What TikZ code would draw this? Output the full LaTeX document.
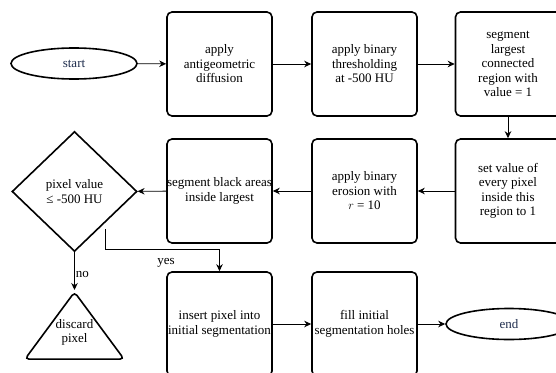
\documentclass[tikz,border=0pt]{standalone}
\usepackage{fontspec}
\setmainfont{Liberation Serif}
\usetikzlibrary{arrows.meta,shapes.geometric}
\definecolor{termtext}{HTML}{1F2D4D}
\tikzset{
  every node/.style={font=\fontsize{13pt}{14.5pt}\selectfont, align=center},
  stepbox/.style={draw, line width=1.6pt, rounded corners=5pt, minimum width=105pt, minimum height=104pt, inner sep=0pt},
  terminal/.style={draw, ellipse, line width=1.6pt, minimum width=126pt, minimum height=31pt, inner sep=0pt, text=termtext},
  decision/.style={draw, diamond, line width=1.6pt, minimum width=125pt, minimum height=120pt, inner sep=0pt},
  stopshape/.style={draw, isosceles triangle, shape border rotate=90, isosceles triangle stretches, line width=1.6pt, minimum width=99pt, minimum height=67pt, inner sep=0pt, rounded corners=4pt},
  arr/.style={line width=0.9pt, -{Stealth[length=7pt,width=6.5pt]}},
  lbl/.style={inner sep=1pt}
}
\begin{document}
\begin{tikzpicture}[x=1pt,y=-1pt]
\clip (0,0) rectangle (556,372);
% first row
\node[terminal] (start) at (74,63.5) {start};
\node[stepbox] (diff) at (219.5,64) {apply\\antigeometric\\diffusion};
\node[stepbox] (thr) at (364.5,64) {apply binary\\thresholding\\at -500 HU};
\node[stepbox] (lcr) at (508,64) {segment\\largest\\connected\\region with\\value = 1};
% second row
\node[stepbox] (setv) at (508,191) {set value of\\every pixel\\inside this\\region to 1};
\node[stepbox] (ero) at (364.5,191) {apply binary\\erosion with\\$r$ = 10};
\node[stepbox] (blk) at (219.5,191) {segment black areas\\inside largest};
\node[decision] (dec) at (74.5,191.5) {pixel value\\≤ -500 HU};
% third row
\node[stopshape, anchor=apex] (disc) at (74.5,290) {};
\node at (74.5,332.5) {discard\\pixel};
\node[stepbox] (ins) at (219.5,324) {insert pixel into\\initial segmentation};
\node[stepbox] (fill) at (364.5,324) {fill initial\\segmentation holes};
\node[terminal] (end) at (509,324) {end};
% connectors
\draw[arr] (start) -- (diff);
\draw[arr] (diff) -- (thr);
\draw[arr] (thr) -- (lcr);
\draw[arr] (lcr) -- (setv);
\draw[arr] (setv) -- (ero);
\draw[arr] (ero) -- (blk);
\draw[arr] (blk) -- (dec);
\draw[arr] (dec.south) -- node[lbl, right, pos=0.6] {no} (disc.apex);
\coordinate (yesstart) at (105,229);
\draw[arr] (yesstart) |- ([yshift=22pt]ins.north) -- (ins.north);
\node[lbl] (yes) at (166,263) {yes};
\draw[arr] (ins) -- (fill);
\draw[arr] (fill) -- (end);
\end{tikzpicture}
\end{document}
